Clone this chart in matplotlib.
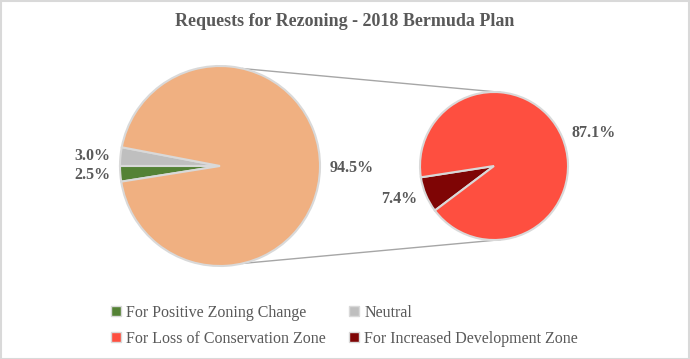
import numpy as np
import matplotlib.pyplot as plt
from matplotlib.patches import Patch

# data
left_labels = ["Neutral", "For Positive Zoning Change", "Other"]
left_values = [3.0, 2.5, 94.5]
right_labels = ["For Increased Development Zone", "For Loss of Conservation Zone"]
right_values = [7.4, 87.1]

title = "Requests for Rezoning - 2018 Bermuda Plan"

# styles
W, H = 690, 359
left_colors = ["#bfbfbf", "#548235", "#f0b081"]
right_colors = ["#7f0505", "#fe4f40"]
edge = "#d9d9d9"
txt_col = "#595959"
FONT = ["Liberation Serif", "DejaVu Serif"]

lc = (220, H - 166)
lr = 100
rc = (494, H - 166)
rr = 74

fig = plt.figure(figsize=(W / 100, H / 100), dpi=100)
ax = fig.add_axes([0, 0, 1, 1])

left_start = 180 - left_values[0] * 3.6
wl, _ = ax.pie(left_values, colors=left_colors, startangle=left_start,
               center=lc, radius=lr, counterclock=True,
               wedgeprops=dict(edgecolor=edge, linewidth=1.5))
wr, _ = ax.pie(right_values, colors=right_colors, startangle=188.8,
               center=rc, radius=rr, counterclock=True,
               wedgeprops=dict(edgecolor=edge, linewidth=1.5))

ax.set_xlim(0, W)
ax.set_ylim(0, H)
ax.set_aspect("equal")
ax.axis("off")


def put_labels(wedges, vals, c, r, dist):
    for w, v in zip(wedges, vals):
        mid = np.deg2rad((w.theta1 + w.theta2) / 2)
        x = c[0] + np.cos(mid) * r * dist
        y = c[1] + np.sin(mid) * r * dist
        ha = "left" if np.cos(mid) > 0 else "right"
        ax.text(x, y, f"{v:.1f}%", ha=ha, va="center", fontsize=11.5,
                fontweight="bold", color=txt_col, family=FONT)


put_labels(wl, left_values, lc, lr, 1.1)
put_labels(wr, right_values, rc, rr, 1.13)

# connector lines
for a_l, a_r in [(77, 85), (-77, -85)]:
    p1 = (lc[0] + lr * np.cos(np.deg2rad(a_l)), lc[1] + lr * np.sin(np.deg2rad(a_l)))
    p2 = (rc[0] + rr * np.cos(np.deg2rad(a_r)), rc[1] + rr * np.sin(np.deg2rad(a_r)))
    ax.plot([p1[0], p2[0]], [p1[1], p2[1]], color="#a6a6a6", lw=1, zorder=0)

fig.text(0.5, 1 - 22 / H, title, ha="center", va="center", fontsize=13,
         fontweight="bold", color=txt_col, family=FONT)

# legend: rows are (positive, neutral), (loss, increased)
handles = [Patch(facecolor=left_colors[1], edgecolor=edge),
           Patch(facecolor=right_colors[1], edgecolor=edge),
           Patch(facecolor=left_colors[0], edgecolor=edge),
           Patch(facecolor=right_colors[0], edgecolor=edge)]
names = [left_labels[1], right_labels[1], left_labels[0], right_labels[0]]
leg = fig.legend(handles, names, ncol=2, loc="upper left",
                 bbox_to_anchor=(111 / W, 1 - 305 / H), frameon=False,
                 prop={"family": FONT, "size": 11.5}, handlelength=0.6,
                 handleheight=0.6, handletextpad=0.35, columnspacing=1.45,
                 labelspacing=0.62, borderaxespad=0, borderpad=0)
for t in leg.get_texts():
    t.set_color(txt_col)

# chart border
fig.patches.append(plt.Rectangle((0.5 / W, 0.5 / H), 1 - 1.5 / W, 1 - 1.5 / H,
                                 transform=fig.transFigure, fill=False,
                                 edgecolor=edge, lw=1.5))

fig.savefig("out.png", dpi=100)
